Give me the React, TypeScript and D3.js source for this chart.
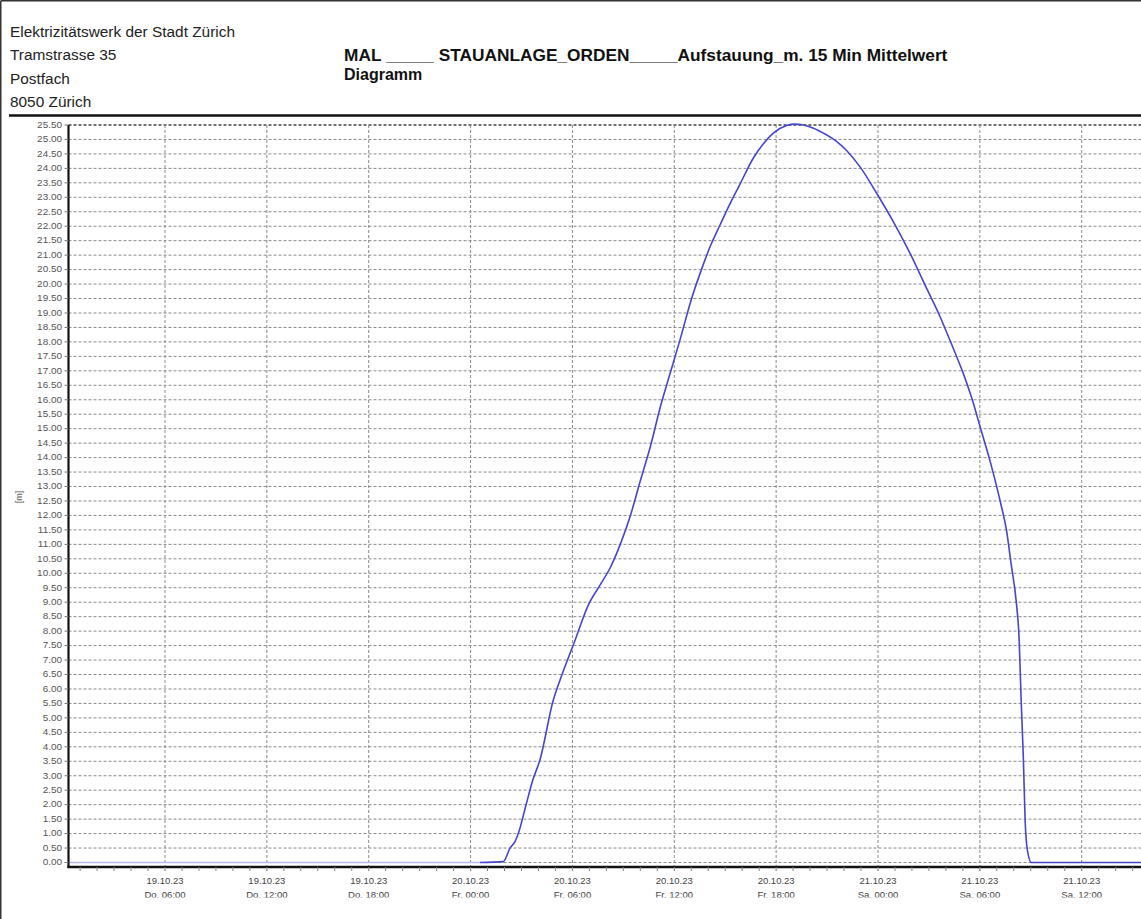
import React from "react";
import * as d3 from "d3";

const headerLines = [
  "Elektrizitätswerk der Stadt Zürich",
  "Tramstrasse 35",
  "Postfach",
  "8050 Zürich",
];
const titleLine = "MAL _____ STAUANLAGE_ORDEN_____Aufstauung_m. 15 Min Mittelwert";
const subtitleLine = "Diagramm";
const yUnit = "[m]";

const yTickValues = d3.range(0, 51 + 1).map((i) => i * 0.5);

const xTickTimes = [
  "2023-10-19T06:00",
  "2023-10-19T12:00",
  "2023-10-19T18:00",
  "2023-10-20T00:00",
  "2023-10-20T06:00",
  "2023-10-20T12:00",
  "2023-10-20T18:00",
  "2023-10-21T00:00",
  "2023-10-21T06:00",
  "2023-10-21T12:00",
];
const weekdayNames = ["So.", "Mo.", "Di.", "Mi.", "Do.", "Fr.", "Sa."];

const levelTimes = [
  "2023-10-20T00:33", "2023-10-20T01:56", "2023-10-20T02:19", "2023-10-20T02:37",
  "2023-10-20T02:49", "2023-10-20T03:16", "2023-10-20T03:40", "2023-10-20T04:05",
  "2023-10-20T04:52", "2023-10-20T05:16", "2023-10-20T06:10", "2023-10-20T06:56",
  "2023-10-20T07:38", "2023-10-20T08:14", "2023-10-20T08:49", "2023-10-20T09:25",
  "2023-10-20T10:00", "2023-10-20T10:36", "2023-10-20T11:12", "2023-10-20T11:48",
  "2023-10-20T12:24", "2023-10-20T12:58", "2023-10-20T13:36", "2023-10-20T14:09",
  "2023-10-20T14:42", "2023-10-20T15:18", "2023-10-20T15:52", "2023-10-20T16:39",
  "2023-10-20T17:15", "2023-10-20T17:50", "2023-10-20T18:37", "2023-10-20T19:07",
  "2023-10-20T19:36", "2023-10-20T20:10", "2023-10-20T20:47", "2023-10-20T21:30",
  "2023-10-20T22:09", "2023-10-20T22:56", "2023-10-20T23:59", "2023-10-21T00:54",
  "2023-10-21T01:53", "2023-10-21T02:52", "2023-10-21T03:39", "2023-10-21T04:26",
  "2023-10-21T05:01", "2023-10-21T05:30", "2023-10-21T06:04", "2023-10-21T06:40",
  "2023-10-21T07:15", "2023-10-21T07:34", "2023-10-21T07:51", "2023-10-21T08:08",
  "2023-10-21T08:19", "2023-10-21T08:26", "2023-10-21T08:34", "2023-10-21T08:40",
  "2023-10-21T08:48", "2023-10-21T09:02", "2023-10-21T15:45",
];
const levelValues = [
  0, 0.03, 0.49, 0.72,
  1.01, 1.99, 2.85, 3.54,
  5.6, 6.3, 7.7, 8.9,
  9.6, 10.2, 11.0, 12.0,
  13.2, 14.4, 15.8, 17.0,
  18.2, 19.4, 20.5, 21.35,
  22.05, 22.8, 23.45, 24.35,
  24.85, 25.22, 25.48, 25.53,
  25.5, 25.4, 25.22, 24.96,
  24.62, 24.06, 23.08, 22.16,
  21.07, 19.85, 18.88, 17.78,
  16.92, 16.1, 14.96, 13.74,
  12.36, 11.5, 10.29, 9.08,
  7.69, 5.62, 3.54, 1.47,
  0.43, 0, 0,
];
const baselineTimes = ["2023-10-19T00:00", "2023-10-20T00:33"];
const baselineValues = [0, 0];

const W = 1141;
const H = 919;
const plotLeft = 68.5;
const plotRight = 1141;
const plotTop = 125;
const axisY = 867;

const parse = d3.timeParse("%Y-%m-%dT%H:%M");

export default function App() {
  const x = d3
    .scaleTime()
    .domain([parse("2023-10-19T06:00")!, parse("2023-10-21T12:00")!])
    .range([165, 1081.7]);
  const y = d3.scaleLinear().domain([0, 25.5]).range([862.5, 125]);

  const level = levelTimes.map((t, i) => ({ t: parse(t)!, v: levelValues[i] }));
  const base = baselineTimes.map((t, i) => ({ t: parse(t)!, v: baselineValues[i] }));
  const line = d3
    .line<{ t: Date; v: number }>()
    .x((d) => x(d.t))
    .y((d) => y(d.v))
    .curve(d3.curveMonotoneX);

  const majorTicks = xTickTimes.map((s) => parse(s)!);
  const minorTicks = d3.timeMinute
    .every(90)!
    .range(parse("2023-10-19T00:00")!, parse("2023-10-21T18:00")!)
    .filter((d) => x(d) > plotLeft + 1 && x(d) < plotRight);
  const fmtDate = d3.timeFormat("%d.%m.%y");
  const fmtTime = d3.timeFormat("%H:%M");
  const font = "'Liberation Sans', Arial, sans-serif";

  return (
    <div style={{ position: "absolute", left: 0, top: 0, background: "#fff" }}>
      <svg width={W} height={H} style={{ display: "block", background: "#fff" }}>
        <defs>
          <clipPath id="plotClip">
            <rect x={plotLeft} y={plotTop - 3} width={plotRight - plotLeft} height={axisY - plotTop + 3} />
          </clipPath>
          <clipPath id="labelClip">
            <rect x={0} y={0} width={W} height={897.5} />
          </clipPath>
        </defs>
        <rect x={0} y={0} width={W} height={H} fill="#fff" />
        {/* page frame */}
        <line x1={0.75} y1={0.75} x2={W} y2={0.75} stroke="#333" strokeWidth={1.5} />
        <line x1={0.75} y1={0.75} x2={0.75} y2={H} stroke="#333" strokeWidth={1.5} />

        {/* header */}
        {headerLines.map((s, i) => (
          <text key={s} x={10} y={36.5 + i * 23.5} fontFamily={font} fontSize={15.4} fill="#222">
            {s}
          </text>
        ))}
        <text x={344} y={61} fontFamily={font} fontSize={17.3} fontWeight="bold" fill="#111">
          {titleLine}
        </text>
        <text x={344} y={80} fontFamily={font} fontSize={16} fontWeight="bold" fill="#111">
          {subtitleLine}
        </text>
        <line x1={9} y1={115.5} x2={W} y2={115.5} stroke="#111" strokeWidth={2.5} />

        {/* horizontal grid */}
        {yTickValues.map((v) => (
          <line
            key={"hg" + v}
            x1={plotLeft}
            x2={plotRight}
            y1={y(v)}
            y2={y(v)}
            stroke={v === 25.5 ? "#444" : "#8a8a8a"}
            strokeWidth={v === 25.5 ? 1.3 : 1}
            strokeDasharray="3,2"
          />
        ))}
        {/* vertical grid */}
        {majorTicks.map((d) => (
          <line
            key={"vg" + d.getTime()}
            x1={x(d)}
            x2={x(d)}
            y1={plotTop}
            y2={axisY + 4}
            stroke="#8a8a8a"
            strokeWidth={1}
            strokeDasharray="3,2"
          />
        ))}

        {/* series */}
        <g clipPath="url(#plotClip)">
          <path d={line(base)!} fill="none" stroke="#b8b8ee" strokeWidth={1.5} />
          <path d={line(level)!} fill="none" stroke="#4646cc" strokeWidth={1.6} />
        </g>

        {/* y axis */}
        <line x1={plotLeft} x2={plotLeft} y1={plotTop} y2={axisY + 1} stroke="#111" strokeWidth={2.2} />
        {yTickValues.map((v) => (
          <g key={"yt" + v}>
            <line x1={plotLeft - 4} x2={plotLeft} y1={y(v)} y2={y(v)} stroke="#777" strokeWidth={1} />
            <text
              transform={`translate(62,${y(v) + 2.8}) scale(1.2,1)`}
              textAnchor="end"
              fontFamily={font}
              fontSize={8.3}
              fill="#555"
            >
              {d3.format(".2f")(v)}
            </text>
          </g>
        ))}
        <text
          transform={`translate(22,497) rotate(-90)`}
          textAnchor="middle"
          fontFamily={font}
          fontSize={9}
          fill="#555"
        >
          {yUnit}
        </text>

        {/* x axis */}
        <line x1={plotLeft - 1} x2={plotRight} y1={axisY} y2={axisY} stroke="#111" strokeWidth={2.6} />
        {minorTicks.map((d) => (
          <line key={"mt" + d.getTime()} x1={x(d)} x2={x(d)} y1={axisY} y2={axisY + 4} stroke="#888" strokeWidth={1} />
        ))}
        <g clipPath="url(#labelClip)">
          {majorTicks.map((d) => (
            <g key={"xl" + d.getTime()} fontFamily={font} fontSize={9.5} fill="#444" textAnchor="middle">
              <text x={x(d)} y={884}>
                {fmtDate(d)}
              </text>
              <text x={x(d)} y={898}>
                {weekdayNames[d.getDay()] + " " + fmtTime(d)}
              </text>
            </g>
          ))}
        </g>
      </svg>
    </div>
  );
}
